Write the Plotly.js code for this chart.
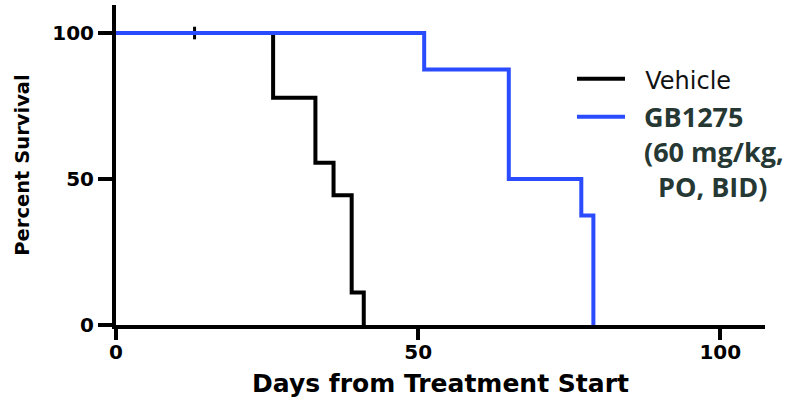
<!DOCTYPE html>
<html><head><meta charset="utf-8">
<script src="https://cdn.plot.ly/plotly-3.0.1.min.js"></script>
<style>body{margin:0;background:#fff}#chart{width:795px;height:398px}</style>
</head><body><div id="chart"></div>
<script>
// Kaplan-Meier step data (days, percent survival)
const vehicleDays = [0, 26, 33, 36, 39, 41];
const vehicleSurv = [100, 77.8, 55.6, 44.4, 11.1, 0];
const vehicleCensorDays = [13];
const vehicleCensorSurv = [100];
const gbDays = [0, 51, 65, 77, 79];
const gbSurv = [100, 87.5, 50, 37.5, 0];
const xTicks = [0, 50, 100];
const yTicks = [0, 50, 100];
const vehicleName = 'Vehicle';
const gbLines = ['GB1275', '(60 mg/kg,', 'PO, BID)'];

const black = '#000000', blue = '#2b4bff';
const gbName = '\u00a0\u00a0' + gbLines[0] + '<br>\u00a0\u00a0' + gbLines[1] + '<br>\u00a0\u00a0\u00a0\u00a0' + gbLines[2];
const traces = [
  {x: vehicleDays, y: vehicleSurv, mode: 'lines', line: {shape: 'hv', color: black, width: 4},
   name: '<span style="font-family:DejaVu Sans;font-size:24px;color:#111;font-weight:normal">\u00a0\u00a0' + vehicleName + '</span>'},
  {x: vehicleCensorDays, y: vehicleCensorSurv, mode: 'markers', showlegend: false,
   marker: {symbol: 'line-ns', size: 9, line: {color: black, width: 3}}},
  {x: gbDays, y: gbSurv, mode: 'lines', line: {shape: 'hv', color: blue, width: 4}, name: gbName}
];
const axFamily = 'DejaVu Sans, Liberation Sans, Arial, sans-serif';
const axFont = {family: axFamily, size: 20, color: '#000', weight: 700};
const layout = {
  width: 795, height: 398,
  margin: {l: 116, r: 30, t: 5, b: 73},
  paper_bgcolor: '#fff', plot_bgcolor: '#fff',
  showlegend: true,
  legend: {x: 0.7026, y: 0.845, xanchor: 'left', yanchor: 'top', valign: 'top', itemwidth: 48,
    bgcolor: 'rgba(0,0,0,0)',
    font: {family: 'Open Sans, sans-serif', size: 27, color: '#263833', weight: 700}},
  xaxis: {range: [0, 107.4], tickvals: xTicks, ticktext: xTicks.map(String), showgrid: false, zeroline: false,
    showline: true, linecolor: black, linewidth: 4, ticks: 'outside', ticklen: 11, tickwidth: 4, tickcolor: black,
    ticklabelstandoff: -5,
    tickfont: axFont,
    title: {text: 'Days from Treatment Start', font: {family: axFamily, size: 25, color: '#000', weight: 700}, standoff: 17}},
  yaxis: {range: [0, 109.6], tickvals: yTicks, ticktext: yTicks.map(String), showgrid: false, zeroline: false,
    showline: true, linecolor: black, linewidth: 4, ticks: 'outside', ticklen: 14, tickwidth: 4, tickcolor: black,
    tickfont: axFont,
    title: {text: 'Percent Survival', font: {family: axFamily, size: 19.5, color: '#000', weight: 700}, standoff: 18}}
};
Plotly.newPlot('chart', traces, layout, {displayModeBar: false, staticPlot: true});
</script></body></html>
